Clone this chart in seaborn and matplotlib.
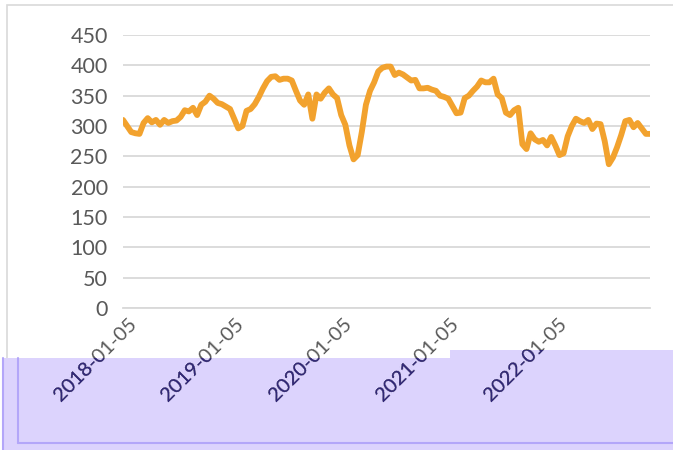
import matplotlib
matplotlib.use("Agg")
import matplotlib.pyplot as plt
from matplotlib.patches import Polygon, Rectangle
from matplotlib.lines import Line2D
from matplotlib.transforms import Bbox, ScaledTranslation
import seaborn as sns
import pandas as pd

# biweekly readings, starting 2018-01-05
start_date = "2018-01-05"
values = [
    310, 300, 290, 288, 287, 305, 313, 306, 310, 302,
    310, 305, 308, 309, 315, 326, 324, 330, 318, 335,
    340, 350, 345, 338, 336, 332, 328, 312, 296, 300,
    325, 328, 336, 348, 362, 374, 381, 382, 376, 378,
    378, 375, 358, 342, 335, 352, 312, 352, 345, 355,
    362, 352, 346, 318, 302, 268, 245, 252, 290, 335,
    358, 372, 390, 396, 398, 398, 384, 388, 385, 380,
    375, 376, 362, 362, 363, 360, 358, 350, 348, 345,
    333, 321, 322, 346, 350, 358, 365, 375, 372, 372,
    378, 352, 346, 322, 318, 326, 330, 270, 262, 288,
    278, 274, 277, 268, 282, 268, 252, 255, 283, 300,
    312, 308, 305, 310, 295, 304, 303, 275, 237, 248,
    265, 285, 308, 310, 298, 305, 296, 287, 287,
]
tick_dates = ["2018-01-05", "2019-01-05", "2020-01-05", "2021-01-05", "2022-01-05"]
y_ticks = [0, 50, 100, 150, 200, 250, 300, 350, 400, 450]

sns.set_style("white")
plt.rcParams["font.family"] = ["Lato", "DejaVu Sans"]

W, H = 673, 450
fig = plt.figure(figsize=(W / 100, H / 100), dpi=100)


def fx(x):
    return x / W


def fy(y):
    return 1 - y / H


# light frame of the chart area
fig.patches.append(Rectangle((fx(7), fy(470)), fx(700), 465 / H, transform=fig.transFigure,
                             fill=False, edgecolor="#d9d9d9", linewidth=1.2, zorder=-3))

# lavender selection overlay at the bottom
box = [(3, 358), (450, 358), (450, 350), (673, 350), (673, 450), (3, 450)]
fig.patches.append(Polygon([(fx(x), fy(y)) for x, y in box], closed=True, transform=fig.transFigure,
                           facecolor="#dcd3fd", edgecolor="none", zorder=-2))
for xs, ys in [([fx(3), fx(3)], [fy(358), fy(450)]),
               ([fx(18), fx(18)], [fy(358), fy(443)]),
               ([fx(18), fx(673)], [fy(443), fy(443)])]:
    fig.lines.append(Line2D(xs, ys, transform=fig.transFigure, color="#b3a6f9", linewidth=1.5, zorder=-1))

ax = fig.add_axes([fx(123), fy(308), (650 - 123) / W, 273 / H])
ax.set_facecolor("none")

df = pd.DataFrame({"date": pd.date_range(start_date, periods=len(values), freq="14D"),
                   "value": values})
sns.lineplot(data=df, x="date", y="value", ax=ax, color="#F2A22E", linewidth=4.2,
             solid_joinstyle="round", solid_capstyle="round")

ax.set_xlim(df["date"].iloc[0], df["date"].iloc[-1])
ax.set_ylim(0, 450)
ax.set_yticks(y_ticks)
ax.yaxis.grid(True, color="#d9d9d9", linewidth=1.3)
ax.set_xlabel("")
ax.set_ylabel("")
for s in ["left", "right", "top"]:
    ax.spines[s].set_visible(False)
ax.spines["bottom"].set_color("#d9d9d9")
ax.spines["bottom"].set_linewidth(1.3)

ax.set_xticks(pd.to_datetime(tick_dates))
ax.set_xticklabels([])
ax.tick_params(axis="y", length=0, pad=11, labelsize=15.5, labelcolor="#595959")
ax.tick_params(axis="x", length=6, width=1.3, color="#d9d9d9")

# rotated date labels; dark blue where the overlay covers them
lab_tr = ax.get_xaxis_transform() + ScaledTranslation(11 / 100, -13 / 100, fig.dpi_scale_trans)
for i, d in enumerate(tick_dates):
    kw = dict(transform=lab_tr, rotation=45, ha="right", va="center",
              rotation_mode="anchor", fontsize=14.5)
    ax.text(pd.Timestamp(d), 0, d, color="#595959", **kw)
    t = ax.text(pd.Timestamp(d), 0, d, color="#30267a", **kw)
    top = 100 if i == len(tick_dates) - 1 else 92
    t.set_clip_box(Bbox([[0, 0], [W, top]]))
    t.set_clip_on(True)

fig.savefig("out.png", dpi=100)
